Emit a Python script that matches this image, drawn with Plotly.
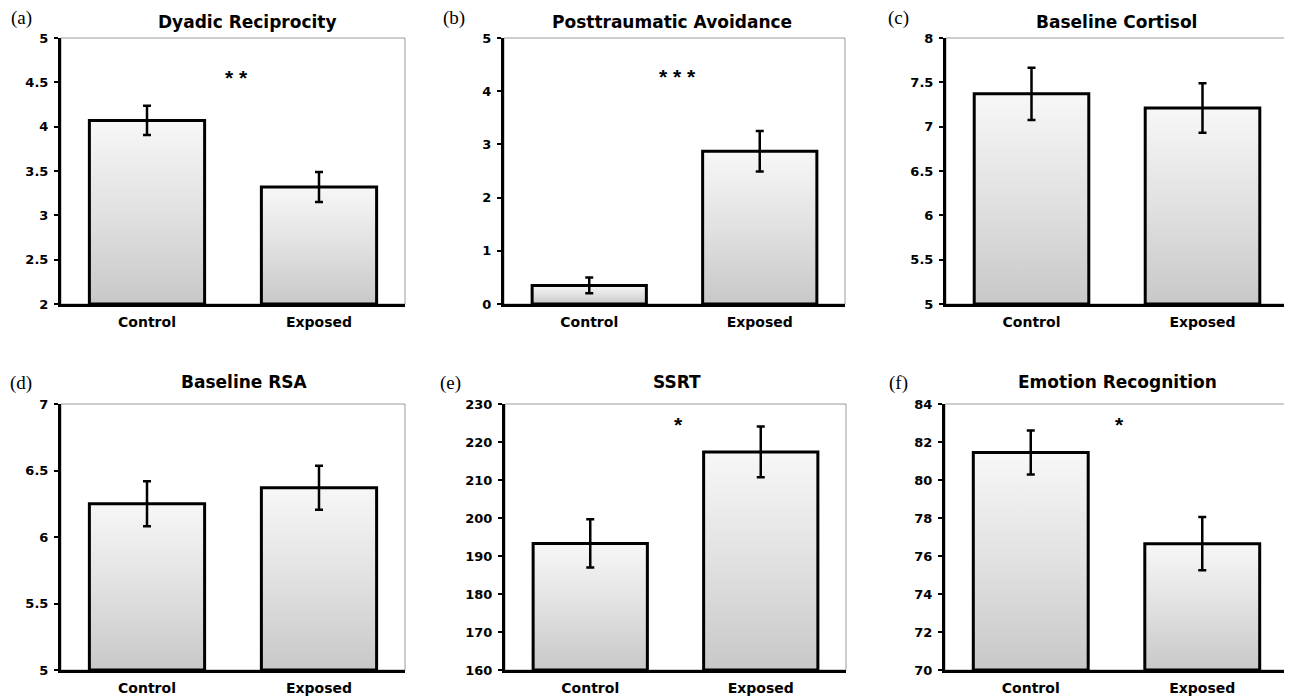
import plotly.graph_objects as go

# ---------------- data ----------------
categories = ["Control", "Exposed"]
panel_labels = ["(a)", "(b)", "(c)", "(d)", "(e)", "(f)"]
titles = ["Dyadic Reciprocity", "Posttraumatic Avoidance", "Baseline Cortisol",
          "Baseline RSA", "SSRT", "Emotion Recognition"]

means_a = [4.07, 3.32]
sem_a = [0.165, 0.17]
means_b = [0.35, 2.87]
sem_b = [0.15, 0.38]
means_c = [7.37, 7.21]
sem_c = [0.295, 0.28]
means_d = [6.25, 6.37]
sem_d = [0.17, 0.165]
means_e = [193.3, 217.4]
sem_e = [6.35, 6.7]
means_f = [81.45, 76.65]
sem_f = [1.16, 1.4]

y_ranges = [[2, 5], [0, 5], [5, 8], [5, 7], [160, 230], [70, 84]]
y_dticks = [0.5, 1, 0.5, 0.5, 10, 2]
significance = ["* *", "* * *", "", "", "*", "*"]
sig_y = [4.55, 4.27, None, None, 224.6, 82.9]

all_means = [means_a, means_b, means_c, means_d, means_e, means_f]
all_sems = [sem_a, sem_b, sem_c, sem_d, sem_e, sem_f]

# ---------------- layout geometry (pixels in the target picture) ----------------
W, H = 1292, 700
OFF = 8  # page body margin of the exported html
col_px = [[(61, 405), (504, 845), (946, 1288)],
          [(61, 405), (505, 846), (945, 1288)]]
row_px = [(38, 304), (404, 670)]
title_gap = [16, 22]
label_gap = [20, 21]
title_x_px = [247, 672, 1116, 244, 677, 1117]
label_x_px = [21, 454, 898, 21, 450, 898]


def px_x(p):
    return (p - OFF) / W


def px_y(p):
    return 1 - (p - OFF) / H


BAR_W = 0.67
FONT = "DejaVu Sans, Arial, sans-serif"
grad = [[0.0, "#c8c8c8"], [0.5, "#e1e1e1"], [1.0, "#f7f7f7"]]

fig = go.Figure()
shapes = []
annotations = []

for i in range(6):
    r, c = divmod(i, 3)
    x0p, x1p = col_px[r][c]
    y0p, y1p = row_px[r]
    xd = [px_x(x0p), px_x(x1p)]
    yd = [px_y(y1p), px_y(y0p)]
    xa = "x" if i == 0 else f"x{i+1}"
    ya = "y" if i == 0 else f"y{i+1}"
    xkey = "xaxis" if i == 0 else f"xaxis{i+1}"
    ykey = "yaxis" if i == 0 else f"yaxis{i+1}"
    ymin, ymax = y_ranges[i]
    means = all_means[i]
    sems = all_sems[i]
    xs = list(range(len(categories)))

    # bars: gradient-filled rectangles with black outline, built from the data
    for j, v in enumerate(means):
        xl, xr = xs[j] - BAR_W / 2, xs[j] + BAR_W / 2
        fig.add_trace(go.Scatter(
            x=[xl, xl, xr, xr, xl], y=[ymin, v, v, ymin, ymin],
            mode="lines", fill="toself",
            line=dict(color="black", width=3),
            fillgradient=dict(type="vertical", start=ymin, stop=v, colorscale=grad),
            xaxis=xa, yaxis=ya, hoverinfo="skip", showlegend=False))

    # error bars
    fig.add_trace(go.Scatter(
        x=xs, y=means, mode="markers",
        marker=dict(size=1, color="rgba(0,0,0,0)"),
        error_y=dict(type="data", array=sems, visible=True, color="black",
                     thickness=2.5, width=4),
        xaxis=xa, yaxis=ya, showlegend=False))

    fig.layout[xkey] = dict(
        domain=xd, range=[-0.5, 1.5], tickmode="array", tickvals=xs,
        ticktext=categories, showgrid=False, zeroline=False,
        showline=True, linecolor="black", linewidth=3, ticks="",
        ticklabelstandoff=3, automargin=False,
        tickfont=dict(family=FONT, size=14, color="black", weight="bold"),
        anchor=ya, fixedrange=True)
    fig.layout[ykey] = dict(
        domain=yd, range=[ymin, ymax], dtick=y_dticks[i], tick0=ymin,
        showgrid=False, zeroline=False, showline=True, linecolor="black",
        linewidth=3, ticks="outside", ticklen=4, tickwidth=2, tickcolor="black",
        ticklabelstandoff=3, automargin=False,
        tickfont=dict(family=FONT, size=13, color="black", weight="bold"),
        anchor=xa, fixedrange=True)

    # thin frame of plot area
    shapes.append(dict(type="rect", xref=f"{xa} domain", yref=f"{ya} domain",
                       x0=0, x1=1, y0=0, y1=1, layer="below",
                       line=dict(color="#9a9a9a", width=1)))

    # title
    annotations.append(dict(text=titles[i], x=px_x(title_x_px[i]),
                            y=px_y(y0p - title_gap[r]), xref="paper", yref="paper",
                            showarrow=False, xanchor="center", yanchor="middle",
                            font=dict(family=FONT, size=17, color="black", weight="bold")))
    # panel label
    annotations.append(dict(text=panel_labels[i], x=px_x(label_x_px[i]),
                            y=px_y(y0p - label_gap[r]), xref="paper", yref="paper",
                            showarrow=False, xanchor="center", yanchor="middle",
                            font=dict(family="Liberation Serif, Times New Roman, serif",
                                      size=19, color="black")))
    # significance marker
    if significance[i]:
        annotations.append(dict(text=significance[i], x=0.52, y=sig_y[i],
                                xref=xa, yref=ya, showarrow=False,
                                xanchor="center", yanchor="middle",
                                font=dict(family="Liberation Sans, Arial, sans-serif",
                                          size=21, color="black", weight="bold")))

fig.update_layout(
    width=W, height=H, margin=dict(l=0, r=0, t=0, b=0, autoexpand=False),
    paper_bgcolor="white", plot_bgcolor="white", showlegend=False,
    shapes=shapes, annotations=annotations)

fig.write_html("out.html")
